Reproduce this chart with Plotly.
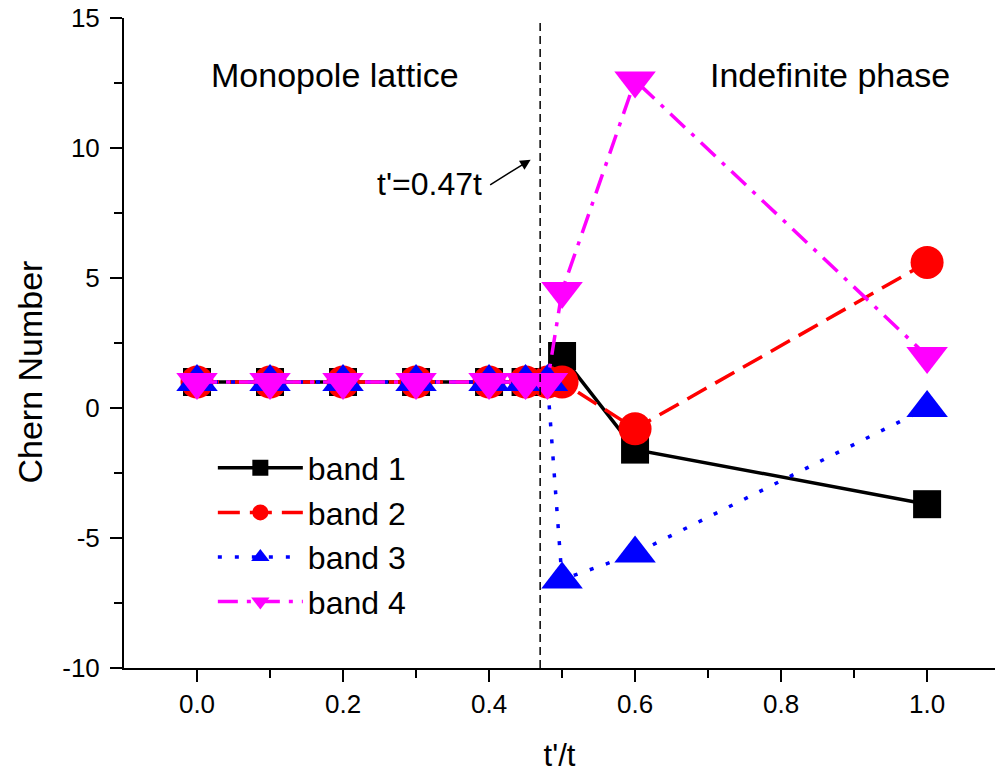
import plotly.graph_objects as go

x_vals = [0.0, 0.1, 0.2, 0.3, 0.4, 0.45, 0.48, 0.5, 0.6, 1.0]
band1 = [1, 1, 1, 1, 1, 1, 1, 2.0, -1.6, -3.7]
band2 = [1, 1, 1, 1, 1, 1, 1, 1.0, -0.8, 5.6]
band3 = [1, 1, 1, 1, 1, 1, 1, -6.6, -5.6, 0.0]
band4 = [1, 1, 1, 1, 1, 1, 1, 4.5, 12.6, 2.0]
names = ["band 1", "band 2", "band 3", "band 4"]
x_ticks = [0.0, 0.2, 0.4, 0.6, 0.8, 1.0]
x_ticklabels = ["0.0", "0.2", "0.4", "0.6", "0.8", "1.0"]
y_ticks = [-10, -5, 0, 5, 10, 15]
y_ticklabels = ["-10", "-5", "0", "5", "10", "15"]
transition = 0.47

FONT = "Liberation Sans, Arial, sans-serif"

styles = [
    dict(color="#000000", dash="solid", symbol="square", size=28),
    dict(color="#FF0000", dash="22px,10px", symbol="circle", size=33),
    dict(color="#0000FF", dash="4px,13px", symbol="triangle-up", size=36),
    dict(color="#FF00FF", dash="20px,9px,4px,9px", symbol="triangle-down", size=36),
]

fig = go.Figure()
for name, ys, st in zip(names, [band1, band2, band3, band4], styles):
    fig.add_trace(go.Scatter(
        x=x_vals, y=ys, name=name, mode="lines+markers",
        line=dict(color=st["color"], dash=st["dash"], width=3.5),
        marker=dict(symbol=st["symbol"], size=st["size"], color=st["color"],
                    line=dict(width=0)),
    ))

fig.add_shape(type="line", x0=transition, x1=transition, y0=-10, y1=15,
              xref="x", yref="y", line=dict(color="black", width=1.5, dash="8px,5px"))

fig.add_annotation(x=0.189, y=12.8, text="Monopole lattice", showarrow=False,
                   font=dict(family=FONT, size=34, color="black"))
fig.add_annotation(x=0.867, y=12.8, text="Indefinite phase", showarrow=False,
                   font=dict(family=FONT, size=34, color="black"))
fig.add_annotation(x=0.319, y=8.6, text="t'=0.47t", showarrow=False,
                   font=dict(family=FONT, size=32, color="black"))
fig.add_annotation(x=0.457, y=9.55, ax=-42, ay=26, text="", showarrow=True,
                   arrowhead=2, arrowsize=1.4, arrowwidth=1.5, arrowcolor="black")
fig.add_annotation(xref="paper", yref="y", x=-0.108, y=1.4, text="Chern Number",
                   xanchor="center", yanchor="middle",
                   textangle=-90, showarrow=False,
                   font=dict(family=FONT, size=34, color="black"))

fig.update_layout(
    width=995, height=775,
    margin=dict(l=124, r=0, t=18, b=107),
    paper_bgcolor="white", plot_bgcolor="white",
    font=dict(family=FONT, color="black"),
    showlegend=True,
    legend=dict(x=0.102, y=0.35, xanchor="left", yanchor="top",
                font=dict(family=FONT, size=32), itemwidth=85,
                bgcolor="rgba(0,0,0,0)", tracegroupgap=0),
    xaxis=dict(
        range=[-0.1, 1.093], showgrid=False, zeroline=False,
        showline=True, linecolor="black", linewidth=2,
        ticks="outside", ticklen=12, tickwidth=2, tickcolor="black",
        tickvals=x_ticks, ticktext=x_ticklabels,
        tickfont=dict(family=FONT, size=26),
        minor=dict(tickvals=[0.1, 0.3, 0.5, 0.7, 0.9], ticks="outside", ticklen=8,
                   tickwidth=2, tickcolor="black"),
        title=dict(text="t'/t", font=dict(family=FONT, size=31), standoff=26),
    ),
    yaxis=dict(
        range=[-10, 15], showgrid=False, zeroline=False,
        showline=True, linecolor="black", linewidth=2,
        ticks="outside", ticklen=12, tickwidth=2, tickcolor="black",
        tickvals=y_ticks, ticktext=y_ticklabels, ticklabelstandoff=5,
        tickfont=dict(family=FONT, size=26),
        minor=dict(dtick=2.5, ticks="outside", ticklen=8, tickwidth=2, tickcolor="black"),
    ),
)

fig.write_html("out.html")
